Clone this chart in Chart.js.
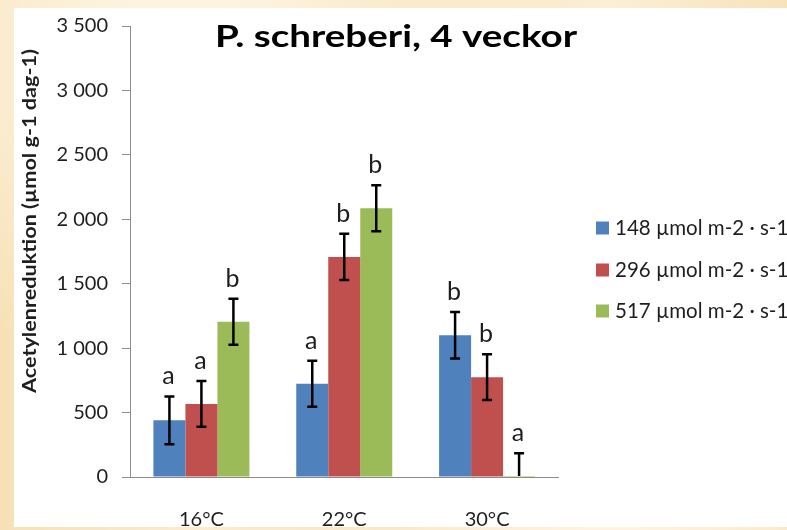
<!DOCTYPE html>
<html>
<head>
<meta charset="utf-8">
<script src="https://cdn.jsdelivr.net/npm/chart.js@4/dist/chart.umd.min.js"></script>
<style>
  html, body { margin: 0; padding: 0; width: 787px; height: 530px; overflow: hidden; }
  body {
    position: relative;
    background:
      radial-gradient(ellipse at 20% 10%, rgba(255,248,232,0.8), rgba(255,248,232,0) 45%),
      radial-gradient(ellipse at 80% 95%, rgba(255,246,228,0.7), rgba(255,246,228,0) 40%),
      linear-gradient(90deg, #f6e1b6, #fbecd0 25%, #f8e5c1 50%, #fcefd6 78%, #f7e2b9);
  }
  #panel { position: absolute; left: 14px; top: 8px; width: 773px; height: 519px; background: #ffffff; overflow: hidden; }
  #chart { position: absolute; left: -14px; top: -8px; }
</style>
</head>
<body>
<div id="panel"><canvas id="chart" width="787" height="530"></canvas></div>
<script>
// Acetylene reduction of P. schreberi after 4 weeks, by temperature and light level
const categories = ['16°C', '22°C', '30°C'];
const seriesNames = ['148 µmol m-2 · s-1', '296 µmol m-2 · s-1', '517 µmol m-2 · s-1'];
const light148 = [440, 724, 1100];
const light296 = [567, 1708, 775];
const light517 = [1205, 2086, 8];
const err148 = [185, 179, 181];
const err296 = [178, 180, 178];
const err517 = [178, 178, 176];
const letters148 = ['a', 'a', 'b'];
const letters296 = ['a', 'b', 'b'];
const letters517 = ['b', 'b', 'a'];
const yTickLabels = ['0', '500', '1 000', '1 500', '2 000', '2 500', '3 000', '3 500'];
const chartTitle = 'P. schreberi, 4 veckor';
const yAxisTitle = 'Acetylenreduktion (µmol g-1 dag-1)';

const colors = ['#4f81bd', '#c0504d', '#9bbb59'];
const FONT = 'Lato, "Open Sans", sans-serif';
const TEXT = '#1e1e1e';

const errors = [err148, err296, err517];
const letters = [letters148, letters296, letters517];

// draws text centred on (x, y), stretched horizontally to a given width
function fitText(ctx, text, x, y, width) {
  const w = ctx.measureText(text).width;
  ctx.save();
  ctx.translate(x, y);
  ctx.scale(width / w, 1);
  ctx.textAlign = 'center';
  ctx.fillText(text, 0, 0);
  ctx.restore();
}

// error bars with significance letters above them
const errorBarPlugin = {
  id: 'errorBars',
  afterDatasetsDraw(chart) {
    const ctx = chart.ctx;
    const y = chart.scales.y;
    const area = chart.chartArea;
    chart.data.datasets.forEach((ds, i) => {
      const meta = chart.getDatasetMeta(i);
      meta.data.forEach((bar, j) => {
        const v = ds.data[j];
        const e = errors[i][j];
        const yTop = y.getPixelForValue(v + e);
        const yBot = y.getPixelForValue(v - e);
        const x = bar.x;
        ctx.save();
        ctx.beginPath();
        ctx.rect(area.left, area.top - 5, area.right - area.left, area.bottom - area.top + 4);
        ctx.clip();
        ctx.strokeStyle = '#000';
        ctx.lineWidth = 2.5;
        ctx.beginPath();
        ctx.moveTo(x, yTop); ctx.lineTo(x, yBot);
        ctx.moveTo(x - 5, yTop); ctx.lineTo(x + 5, yTop);
        ctx.moveTo(x - 5, yBot); ctx.lineTo(x + 5, yBot);
        ctx.stroke();
        ctx.restore();

        ctx.save();
        ctx.fillStyle = TEXT;
        ctx.font = '25px ' + FONT;
        ctx.textAlign = 'center';
        ctx.textBaseline = 'alphabetic';
        ctx.fillText(letters[i][j], x - 1, yTop - 12);
        ctx.restore();
      });
    });
  }
};

// chart title, rotated y-axis title and the legend on the right
const decorPlugin = {
  id: 'decor',
  afterDraw(chart) {
    const ctx = chart.ctx;
    ctx.save();
    ctx.fillStyle = '#000';
    ctx.font = 'bold 31px ' + FONT;
    ctx.textBaseline = 'middle';
    fitText(ctx, chartTitle, 396, 37, 362);

    ctx.translate(30, 221);
    ctx.rotate(-Math.PI / 2);
    ctx.font = 'bold 18px ' + FONT;
    ctx.fillStyle = TEXT;
    fitText(ctx, yAxisTitle, 0, 0, 344);
    ctx.restore();

    ctx.save();
    const rows = [228, 270, 311];
    chart.data.datasets.forEach((ds, i) => {
      ctx.fillStyle = ds.backgroundColor;
      ctx.fillRect(596, rows[i] - 6.5, 13, 13);
      ctx.fillStyle = TEXT;
      ctx.font = '20.5px ' + FONT;
      ctx.textAlign = 'left';
      ctx.textBaseline = 'middle';
      ctx.fillText(ds.label, 615, rows[i]);
    });
    ctx.restore();
  }
};

const datasets = [light148, light296, light517].map((d, i) => ({
  label: seriesNames[i],
  data: d,
  backgroundColor: colors[i],
  borderWidth: 0,
  barPercentage: 1.0,
  categoryPercentage: 0.672
}));

new Chart(document.getElementById('chart'), {
  type: 'bar',
  data: { labels: categories, datasets },
  options: {
    responsive: false,
    animation: false,
    layout: { padding: { left: 0, right: 228.5, top: 19.5, bottom: 0 } },
    plugins: { legend: { display: false }, title: { display: false }, tooltip: { enabled: false } },
    scales: {
      x: {
        offset: true,
        grid: { display: false, drawTicks: false },
        border: { display: true, color: '#8c8c8c', width: 1 },
        ticks: { color: TEXT, font: { family: FONT, size: 20 }, padding: 31, maxRotation: 0 },
        afterFit(s) { s.height = 53; }
      },
      y: {
        min: 0, max: 3500,
        grid: { drawOnChartArea: false, drawTicks: true, tickLength: 8, color: '#8c8c8c' },
        border: { display: true, color: '#8c8c8c', width: 1 },
        ticks: {
          stepSize: 500,
          color: TEXT,
          font: { family: FONT, size: 20 },
          padding: 14,
          callback: (v) => yTickLabels[Math.round(v / 500)]
        },
        afterFit(s) { s.width = 130; }
      }
    }
  },
  plugins: [errorBarPlugin, decorPlugin]
});
</script>
</body>
</html>
